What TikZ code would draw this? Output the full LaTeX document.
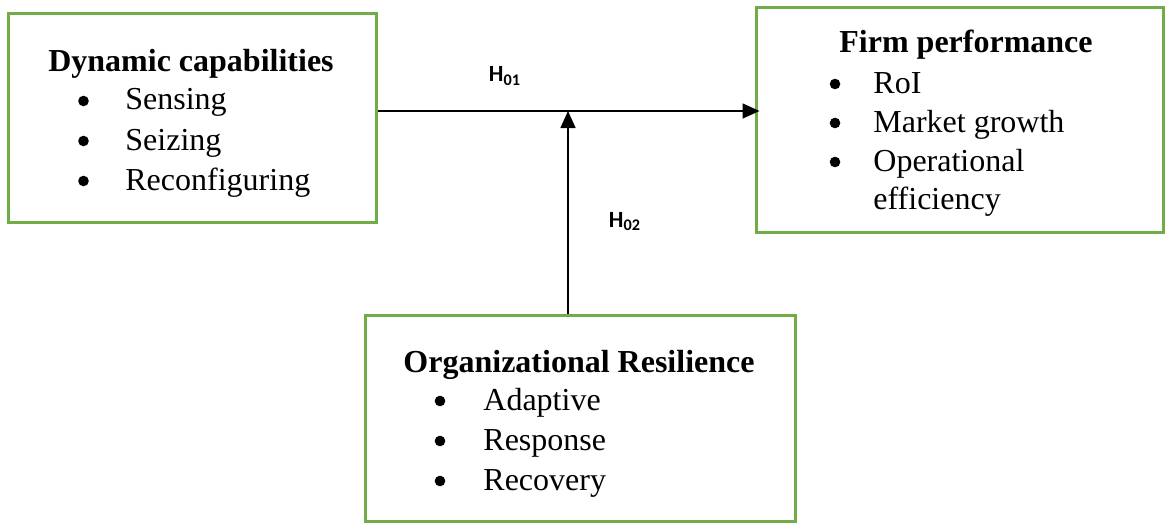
\documentclass[tikz,border=0pt]{standalone}
\usepackage{fontspec}
\setmainfont{Liberation Serif}
\newfontfamily\hfont{Carlito}
\usetikzlibrary{arrows.meta}
\definecolor{boxgreen}{RGB}{112,173,71}

\begin{document}
\begin{tikzpicture}[
        x=0.5pt, y=-0.5pt,
        box/.style={rectangle, draw=boxgreen, line width=1.5pt},
        title/.style={anchor=base, inner sep=0pt, font=\fontsize{16}{20}\selectfont\bfseries},
        item/.style={anchor=base west, inner sep=0pt, font=\fontsize{16}{20}\selectfont},
        dot/.style={circle, fill, inner sep=0pt, minimum size=5.3pt},
        hyp/.style={anchor=base, inner sep=0pt, font=\hfont\fontsize{11.6}{14}\selectfont\bfseries},
        arrow/.style={-{Triangle[length=8.5pt, width=7.5pt]}, line width=0.75pt}
    ]
    \useasboundingbox (0,0) rectangle (1165,524);

    % Dynamic capabilities
    \node[box, minimum width=184pt, minimum height=104pt] (dc) at (192,118) {};
    \node[title] (dctitle) at (191,72) {Dynamic capabilities};
    \node[dot] (dcb1) at (83.5,101) {};
    \node[item] (dc1) at (125,110) {Sensing};
    \node[dot] (dcb2) at (83.5,141) {};
    \node[item] (dc2) at (125,150) {Seizing};
    \node[dot] (dcb3) at (83.5,181) {};
    \node[item] (dc3) at (125,190) {Reconfiguring};

    % Firm performance
    \node[box, minimum width=203.5pt, minimum height=112pt] (fp) at (959.5,120) {};
    \node[title] (fptitle) at (966,53) {Firm performance};
    \node[dot] (fpb1) at (835,84) {};
    \node[item] (fp1) at (873,93) {RoI};
    \node[dot] (fpb2) at (835,123) {};
    \node[item] (fp2) at (873,132) {Market growth};
    \node[dot] (fpb3) at (835,162) {};
    \node[item] (fp3) at (873,171) {Operational};
    \node[item] (fp4) at (873,209) {efficiency};

    % Organizational resilience
    \node[box, minimum width=215pt, minimum height=103pt] (or) at (580,418.5) {};
    \node[title] (ortitle) at (579,372) {Organizational Resilience};
    \node[dot] (orb1) at (440,401) {};
    \node[item] (or1) at (483,410) {Adaptive};
    \node[dot] (orb2) at (440,441) {};
    \node[item] (or2) at (483,450) {Response};
    \node[dot] (orb3) at (440,481) {};
    \node[item] (or3) at (483,490) {Recovery};

    % Hypotheses
    \coordinate (join) at (568,111);
    \draw[arrow, shorten >=-2.5pt] (dc.east |- join) -- (fp.west |- join);
    \draw[arrow] (or.north -| join) -- (join);

    \node[hyp] (h01) at (505,82) {H\textsubscript{01}};
    \node[hyp] (h02) at (625,227) {H\textsubscript{02}};

    \end{tikzpicture}
\end{document}
